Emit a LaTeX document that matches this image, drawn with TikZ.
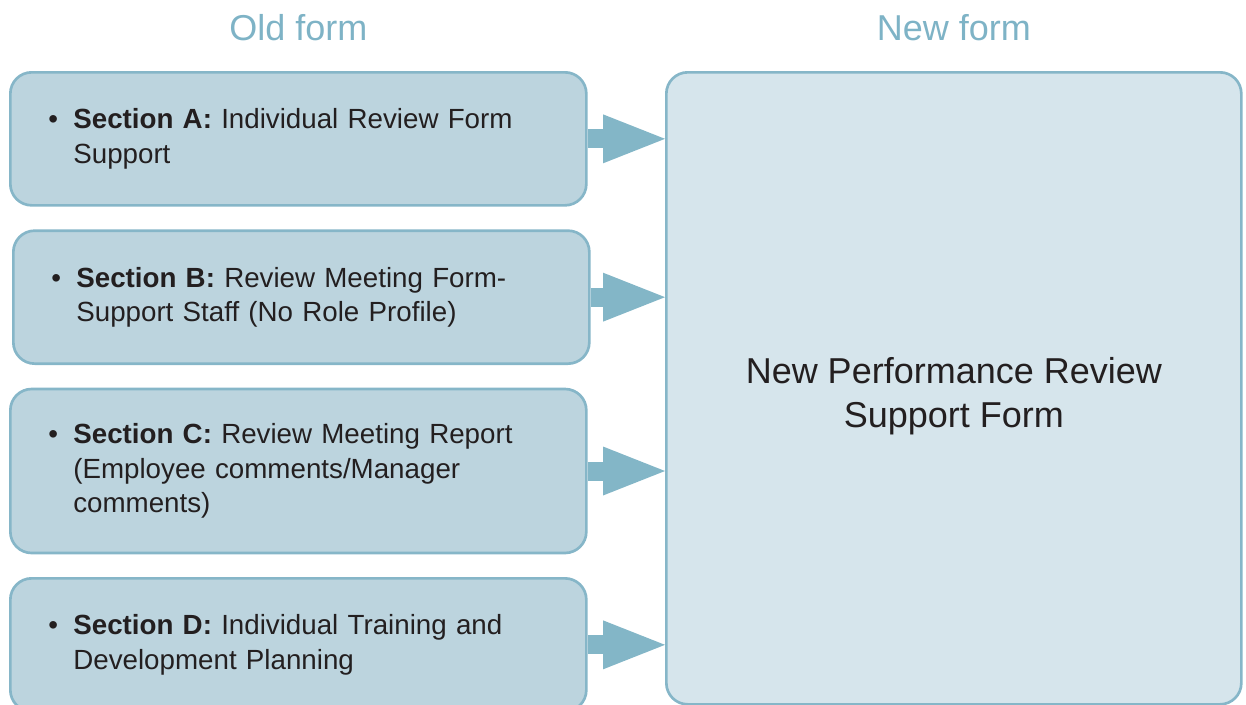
\documentclass[tikz,border=0pt]{standalone}
\usepackage{fontspec}
\setmainfont{Liberation Sans}
\usetikzlibrary{positioning, arrows.meta}

\definecolor{boxfill}{HTML}{BCD4DE}
\definecolor{boxedge}{HTML}{86B6C8}
\definecolor{bigfill}{HTML}{D6E5EC}
\definecolor{flowcol}{HTML}{83B6C7}
\definecolor{titlecol}{HTML}{7EB3C6}
\definecolor{inkcol}{HTML}{231F20}

\newcommand{\bul}{\makebox[18.75pt][l]{\textbullet}}
\newcommand{\cont}{\hspace*{18.75pt}}

\tikzset{
  oldbox/.style={draw=boxedge, fill=boxfill, line width=2pt, rounded corners=16pt,
    minimum height=99.75pt, text width=375pt, inner xsep=28.5pt, inner ysep=0pt,
    align=left, text=inkcol, font=\fontsize{20.8}{26}\selectfont},
  newbox/.style={draw=boxedge, fill=bigfill, line width=2pt, rounded corners=16pt,
    minimum width=431.25pt, minimum height=474pt},
  newlabel/.style={align=center, text=inkcol, font=\fontsize{27}{32.5}\selectfont},
  coltitle/.style={text=titlecol, font=\fontsize{27}{30}\selectfont},
  flow/.style={draw=flowcol, line width=14.25pt,
    -{Triangle[length=46.5pt, width=36.75pt, line width=0pt]}}
}

\begin{document}
\begin{tikzpicture}[x=0.75pt, y=-0.75pt, node distance=17pt and 58pt]
  \useasboundingbox (0,0) rectangle (1246,704);

  % old form sections
  \node[oldbox, anchor=north west] (secA) at (9,71)
    {\bul\textbf{Section A:} Individual Review Form\\\cont Support};
  \node[oldbox, below=of secA, xshift=2.25pt] (secB)
    {\bul\textbf{Section B:} Review Meeting Form-\\\cont Support Staff (No Role Profile)};
  \node[oldbox, below=of secB, xshift=-2.25pt, minimum height=123pt] (secC)
    {\bul\textbf{Section C:} Review Meeting Report\\\cont (Employee comments/Manager\\\cont comments)};
  \node[oldbox, below=of secC] (secD)
    {\bul\textbf{Section D:} Individual Training and\\\cont Development Planning};

  % new form
  \node[newbox, right=of secA.north east, anchor=north west] (newform) {};
  \node[newlabel] (newtext) at ([yshift=-6pt]newform.center)
    {New Performance Review\\Support Form};

  % titles
  \node[coltitle, anchor=base] (oldtitle) at ([yshift=23.25pt]secA.north) {Old form};
  \node[coltitle, anchor=base] (newtitle) at ([yshift=23.25pt]newform.north) {New form};

  \foreach \s in {secA,secB,secC,secD}
    \draw[flow] (\s.east) -- (\s.east -| newform.west);
\end{tikzpicture}
\end{document}
